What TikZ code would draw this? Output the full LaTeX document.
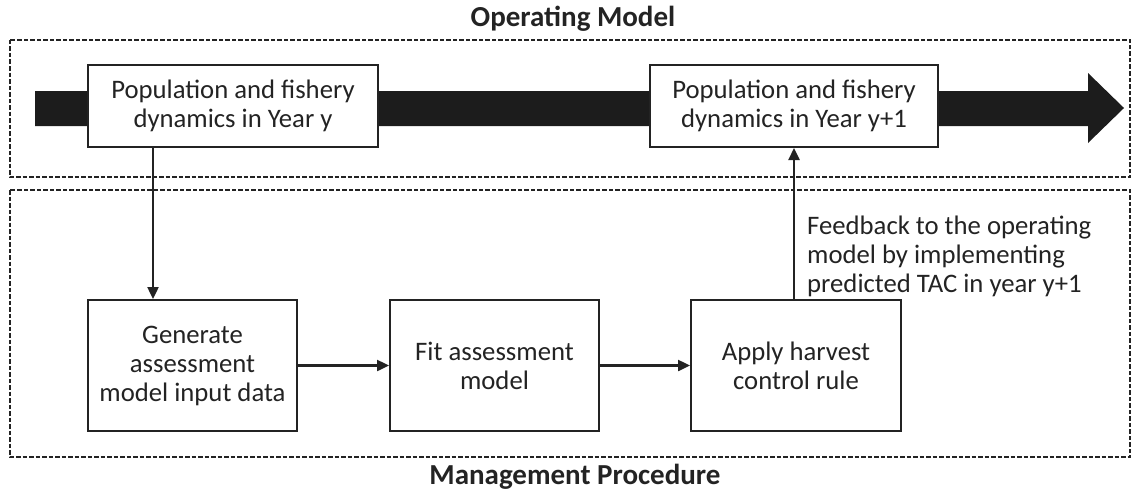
\documentclass[tikz,border=0pt]{standalone}
\usepackage{fontspec}
\setmainfont{Carlito}
\usepackage{tikz}
\usetikzlibrary{arrows.meta, positioning, calc}
\definecolor{inkgray}{RGB}{35, 35, 35}
\definecolor{barblack}{RGB}{28, 28, 28}

\begin{document}
\begin{tikzpicture}[x=1pt, y=-1pt,
  procbox/.style={draw=inkgray, line width=2pt, fill=white, align=center, inner sep=0pt, text=inkgray, font=\fontsize{26.7}{29}\selectfont},
  regionbox/.style={draw=inkgray, line width=1.5pt, dash pattern=on 4.5pt off 2pt},
  regiontitle/.style={font=\bfseries\fontsize{29}{32}\selectfont, text=inkgray},
  flow/.style={-{Triangle[length=12pt, width=11pt]}, line width=2.4pt, draw=inkgray}]
  \useasboundingbox (0,0) rectangle (1134,495);
  % operating model and management procedure regions
  \draw[regionbox] (10,40) rectangle (1130,177);
  \draw[regionbox] (10,190) rectangle (1130,457);
  \node[regiontitle] (omtitle) at (573,19) {Operating Model};
  \node[regiontitle] (mptitle) at (575,477) {Management Procedure};
  % time arrow behind the yearly boxes
  \fill[barblack] (35,91) -- (1088,91) -- (1088,73) -- (1124,108) -- (1088,143) -- (1088,126) -- (35,126) -- cycle;
  \node[procbox, minimum width=290pt, minimum height=82pt] (popy) at (233,106) {Population and fishery\\dynamics in Year y};
  \node[procbox, minimum width=288pt, minimum height=82pt] (popnext) at (794,106) {Population and fishery\\dynamics in Year y+1};
  % assessment loop
  \node[procbox, minimum width=209pt, minimum height=131pt] (gendata) at (192.5,365.5) {Generate\\assessment\\model input data};
  \node[procbox, minimum width=209pt, minimum height=131pt, right=91pt of gendata] (fitmodel) {Fit assessment\\model};
  \node[procbox, minimum width=210pt, minimum height=131pt, right=90pt of fitmodel] (hcr) {Apply harvest\\control rule};
  \coordinate (drop) at ([xshift=66pt]popy.south west);
  \draw[flow] (drop) -- (drop |- gendata.north);
  \draw[flow] (gendata) -- (fitmodel);
  \draw[flow] (fitmodel) -- (hcr);
  \draw[flow] (hcr.north -| popnext.south) -- (popnext.south);
  \node[anchor=north west, align=left, inner sep=0pt, text=inkgray, font=\fontsize{26.7}{29}\selectfont] (feedback) at (807,216) {Feedback to the operating\\model by implementing\\predicted TAC in year y+1};
\end{tikzpicture}
\end{document}
